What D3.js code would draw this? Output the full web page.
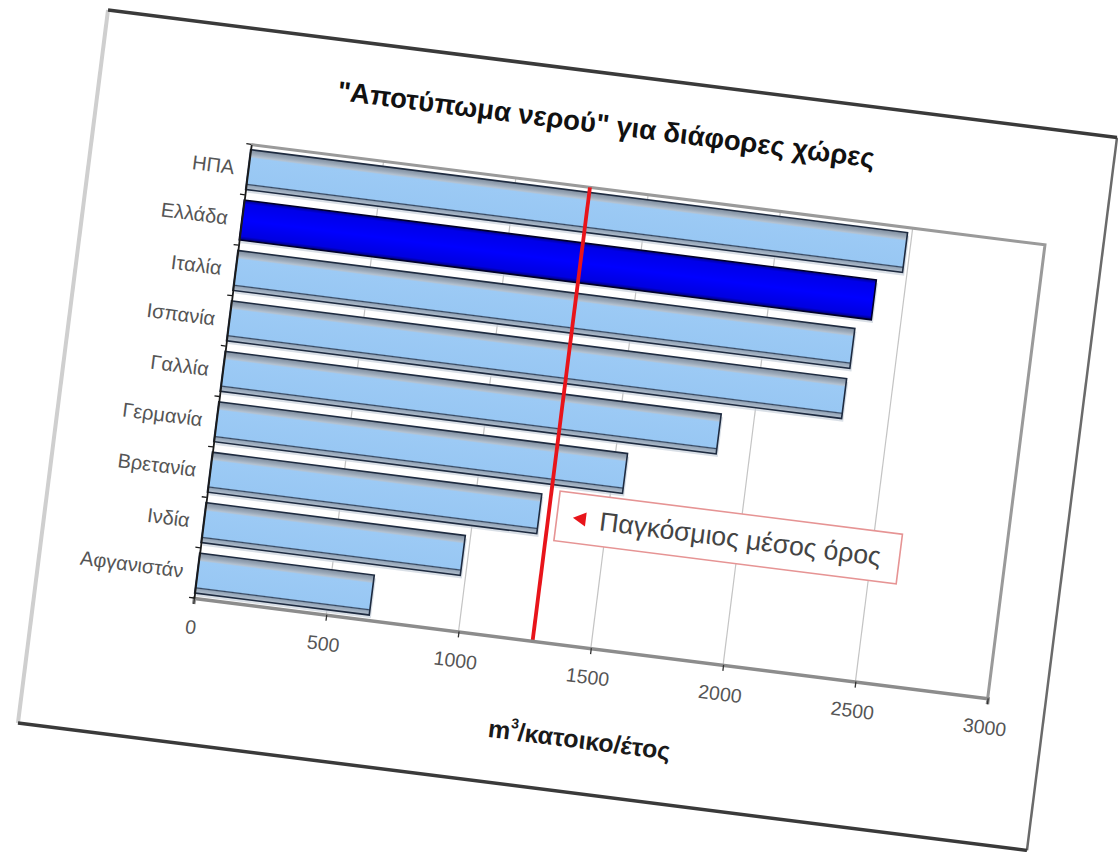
<!DOCTYPE html>
<html>
<head>
<meta charset="utf-8">
<script src="https://cdn.jsdelivr.net/npm/d3@7"></script>
<style>
  html, body { margin: 0; padding: 0; background: #ffffff; }
  svg { display: block; }
  text { font-family: "Liberation Sans", Arial, sans-serif; }
</style>
</head>
<body>
<svg id="chart" width="1118" height="852"></svg>
<script>
// Water footprint per country (m3 per inhabitant per year)
const categories = ["ΗΠΑ", "Ελλάδα", "Ιταλία", "Ισπανία", "Γαλλία", "Γερμανία", "Βρετανία", "Ινδία", "Αφγανιστάν"];
const values = [2483, 2389, 2332, 2325, 1875, 1545, 1245, 980, 660];
const highlighted = ["Ελλάδα"];
const worldAverage = [1280];
const xTicks = [0, 500, 1000, 1500, 2000, 2500, 3000];
const xDomain = [0, 3000];
const titleText = "\"Αποτύπωμα νερού\" για διάφορες χώρες";
const axisTitleMain = "m";
const axisTitleSup = "3";
const axisTitleRest = "/κατοικο/έτος";
const legendLabel = "Παγκόσμιος μέσος όρος";

const svg = d3.select("#chart");

// plot size in the chart's own (tilted) frame
const plotW = 800, plotH = 457;

const defs = svg.append("defs");
const gLight = defs.append("linearGradient").attr("id", "barLight")
  .attr("x1", 0).attr("y1", 0).attr("x2", 0).attr("y2", 1);
[[0, "#7f8d9e"], [0.1, "#9aa8b8"], [0.17, "#b4c2d1"], [0.21, "#9ccaf5"], [0.84, "#98c7f3"], [0.87, "#34465f"],
 [0.9, "#95a6b9"], [1, "#b4c1cf"]].forEach(([o, c]) =>
  gLight.append("stop").attr("offset", o).attr("stop-color", c));
const gDark = defs.append("linearGradient").attr("id", "barDark")
  .attr("x1", 0).attr("y1", 0).attr("x2", 0).attr("y2", 1);
[[0, "#00008a"], [0.1, "#0000e8"], [0.5, "#0000ff"], [0.9, "#0000e0"], [1, "#000070"]].forEach(([o, c]) =>
  gDark.append("stop").attr("offset", o).attr("stop-color", c));

// whole sheet is tilted, origin at the bottom-left corner of the plot
const root = svg.append("g").attr("transform", "translate(194,598) rotate(7.2)");

const x = d3.scaleLinear().domain(xDomain).range([0, plotW]);
const y = d3.scaleBand().domain(categories).range([-plotH, 0]).paddingInner(0.21).paddingOuter(0.1);

// chart frame
const fr = { l: -159, r: 858, t: -572.5, b: 146 };
root.append("rect").attr("x", fr.l).attr("y", fr.t).attr("width", fr.r - fr.l).attr("height", fr.b - fr.t)
  .attr("fill", "#ffffff");
root.append("line").attr("x1", fr.l).attr("x2", fr.l).attr("y1", fr.t).attr("y2", fr.b)
  .attr("stroke", "#cfcfcf").attr("stroke-width", 4);
root.append("line").attr("x1", fr.r).attr("x2", fr.r).attr("y1", fr.t).attr("y2", fr.b)
  .attr("stroke", "#6a6a6a").attr("stroke-width", 2.5);
root.append("line").attr("x1", fr.l).attr("x2", fr.r).attr("y1", fr.t).attr("y2", fr.t)
  .attr("stroke", "#3a3a3a").attr("stroke-width", 3.5);
root.append("line").attr("x1", fr.l).attr("x2", fr.r).attr("y1", fr.b).attr("y2", fr.b)
  .attr("stroke", "#3a3a3a").attr("stroke-width", 3.5);

// title
root.append("text").attr("x", (fr.l + fr.r) / 2).attr("y", -512)
  .attr("text-anchor", "middle").attr("font-size", 27.5).attr("font-weight", "bold")
  .attr("fill", "#111").text(titleText);

// plot area
root.append("rect").attr("x", 0).attr("y", -plotH).attr("width", plotW).attr("height", plotH)
  .attr("fill", "#ffffff");

// vertical gridlines
root.append("g").selectAll("line").data(xTicks.filter(t => t > 0 && t < xDomain[1])).join("line")
  .attr("x1", d => x(d)).attr("x2", d => x(d)).attr("y1", -plotH).attr("y2", 0)
  .attr("stroke", "#c4c4c4").attr("stroke-width", 1.2);

// plot border (top and right)
root.append("path").attr("d", `M0,${-plotH}H${plotW}V0`)
  .attr("fill", "none").attr("stroke", "#9a9a9a").attr("stroke-width", 3);

// bars
const bars = root.append("g");
bars.selectAll("rect.shadow").data(categories).join("rect").attr("class", "shadow")
  .attr("x", 2).attr("y", d => y(d) + 3)
  .attr("width", (d, i) => x(values[i]))
  .attr("height", y.bandwidth())
  .attr("fill", "#c9d2dc").attr("opacity", 0.7);
bars.selectAll("rect.bar").data(categories).join("rect").attr("class", "bar")
  .attr("x", 0).attr("y", d => y(d))
  .attr("width", (d, i) => x(values[i]))
  .attr("height", y.bandwidth())
  .attr("fill", d => highlighted.includes(d) ? "url(#barDark)" : "url(#barLight)")
  .attr("stroke", d => highlighted.includes(d) ? "#00002a" : "#1e2b40")
  .attr("stroke-width", 1.6);

// world average line
root.append("line")
  .attr("x1", x(worldAverage[0])).attr("x2", x(worldAverage[0]))
  .attr("y1", -plotH).attr("y2", 0)
  .attr("stroke", "#e8141a").attr("stroke-width", 3.8);

// x axis
const xAxis = root.append("g")
  .call(d3.axisBottom(x).tickValues(xTicks).tickSize(6).tickPadding(16).tickFormat(d3.format("d")));
xAxis.select(".domain").attr("stroke", "#8c8c8c").attr("stroke-width", 3.5);
xAxis.selectAll(".tick line").attr("stroke", "#333").attr("stroke-width", 1.3);
xAxis.selectAll(".tick text").attr("font-size", 19.5).attr("fill", "#555")
  .attr("font-family", "Liberation Sans, Arial, sans-serif");

// y axis (labels centred in bands, ticks between categories)
const yAxis = root.append("g")
  .call(d3.axisLeft(y).tickSize(0).tickPadding(14));
yAxis.select(".domain").attr("stroke", "#1a1a1a").attr("stroke-width", 1.8);
yAxis.selectAll(".tick text").attr("font-size", 20).attr("fill", "#555")
  .attr("font-family", "Liberation Sans, Arial, sans-serif");
const step = y.step();
const bounds = categories.map(c => y(c) - step * y.paddingInner() / 2).concat([0]);
root.append("g").selectAll("line").data(bounds).join("line")
  .attr("x1", -5).attr("x2", 0).attr("y1", d => d).attr("y2", d => d)
  .attr("stroke", "#1a1a1a").attr("stroke-width", 1.3);

// x axis title
const at = root.append("text").attr("x", plotW / 2).attr("y", 101)
  .attr("text-anchor", "middle").attr("font-size", 25).attr("font-weight", "bold").attr("fill", "#1a1a1a");
at.append("tspan").text(axisTitleMain);
at.append("tspan").attr("font-size", 14).attr("dy", -12).text(axisTitleSup);
at.append("tspan").attr("dy", 12).text(axisTitleRest);

// legend
const lg = root.append("g");
lg.append("rect").attr("x", x(1312)).attr("y", -152).attr("width", 345).attr("height", 50)
  .attr("fill", "#ffffff").attr("stroke", "#e69494").attr("stroke-width", 1.6);
lg.append("path").attr("transform", `translate(${x(1312) + 23},-127)`)
  .attr("d", "M-7,0L6,-7L6,7Z").attr("fill", "#e8141a");
lg.append("text").attr("x", x(1312) + 43).attr("y", -118)
  .attr("font-size", 26.5).attr("fill", "#444").text(legendLabel);
</script>
</body>
</html>
